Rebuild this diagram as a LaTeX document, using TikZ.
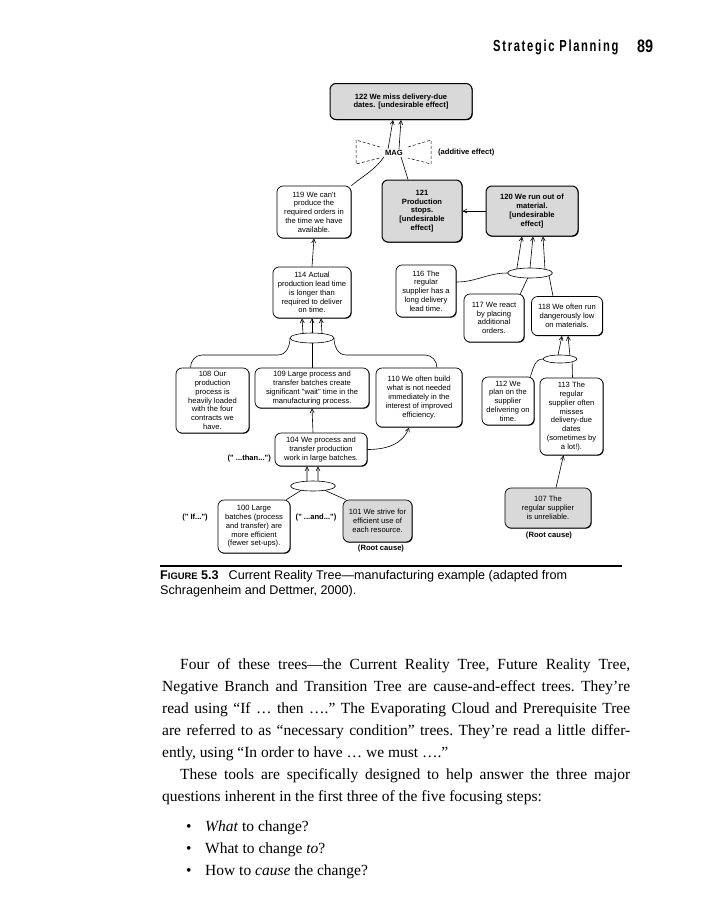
\documentclass[tikz,border=0pt]{standalone}
\usepackage{fontspec}
\usepackage{graphicx}
\setmainfont{Liberation Serif}
\newfontfamily\crtfont{Liberation Sans}
\newfontfamily\headfont[LetterSpace=15]{Liberation Sans}
\usetikzlibrary{shapes.geometric,arrows.meta,shadows}

\tikzset{
  crt/.style={draw, rounded corners=6pt, line width=0.7pt, align=center, inner sep=1pt, fill=white,
    drop shadow={fill=black, opacity=1, shadow xshift=0.7pt, shadow yshift=-0.7pt},
    font=\crtfont\fontsize{7.6}{8.8}\selectfont},
  root/.style={crt, fill=gray!30},
  ude/.style={root, line width=1pt, font=\crtfont\bfseries\fontsize{7.6}{8.8}\selectfont},
  andell/.style={draw, ellipse, line width=0.6pt, inner sep=0pt, outer sep=0pt},
  tip/.style={-{Straight Barb[length=4pt,width=4pt]}, line width=0.6pt},
  lnk/.style={line width=0.6pt},
  note/.style={font=\crtfont\bfseries\fontsize{7.6}{8.8}\selectfont, inner sep=1pt},
  bodyline/.style={anchor=base west, inner sep=0pt, font=\frenchspacing\fontsize{15.5}{22}\selectfont}
}

\begin{document}
\begin{tikzpicture}[x=1pt,y=1pt]
\useasboundingbox[fill=white] (0,0) rectangle (715,-900);

% running head
\node[anchor=base west, inner sep=0pt] (runhead) at (493,-51) {\scalebox{0.7}[1]{\headfont\bfseries\fontsize{16}{16}\selectfont Strategic Planning}};
\node[anchor=base west, inner sep=0pt] (folio) at (637,-52) {\scalebox{0.8}[1]{\crtfont\bfseries\fontsize{18}{18}\selectfont 89}};

% the tree
\node[ude, minimum width=142, minimum height=36] (b122) at (401,-101.5) {122 We miss delivery-due\\dates. [undesirable effect]};
\node[note] (mag) at (394,-153) {MAG};
\node[note, anchor=west] (addeff) at (437,-153) {(additive effect)};
\node[crt, minimum width=74, minimum height=52] (b119) at (314,-212) {119 We can't\\produce the\\required orders in\\the time we have\\available.};
\node[ude, minimum width=80, minimum height=62] (b121) at (422,-211) {121\\Production\\stops.\\{}[undesirable\\effect]};
\node[ude, minimum width=92, minimum height=50] (b120) at (532,-211) {120 We run out of\\material.\\{}[undesirable\\effect]};
\node[crt, minimum width=78, minimum height=51] (b114) at (312,-292.5) {114 Actual\\production lead time\\is longer than\\required to deliver\\on time.};
\node[crt, minimum width=60, minimum height=52] (b116) at (426,-291) {116 The\\regular\\supplier has a\\long delivery\\lead time.};
\node[crt, minimum width=60, minimum height=48] (b117) at (494,-318) {117 We react\\by placing\\additional\\orders.};
\node[crt, minimum width=71, minimum height=39] (b118) at (567,-316) {118 We often run\\dangerously low\\on materials.};
\node[andell, minimum width=45, minimum height=10] (and1) at (530,-273) {};
\node[andell, minimum width=44, minimum height=10] (and2) at (312,-338) {};
\node[andell, minimum width=34, minimum height=8] (and3) at (560,-359) {};
\node[crt, minimum width=73, minimum height=65] (b108) at (212.5,-400.5) {108 Our\\production\\process is\\heavily loaded\\with the four\\contracts we\\have.};
\node[crt, minimum width=114, minimum height=40] (b109) at (312,-388) {109 Large process and\\transfer batches create\\significant "wait" time in the\\manufacturing process.};
\node[crt, minimum width=86, minimum height=59] (b110) at (419,-397.5) {110 We often build\\what is not needed\\immediately in the\\interest of improved\\efficiency.};
\node[crt, minimum width=52, minimum height=48] (b112) at (508,-401) {112 We\\plan on the\\supplier\\delivering on\\time.};
\node[crt, minimum width=63, minimum height=77] (b113) at (571.5,-416.5) {113 The\\regular\\supplier often\\misses\\delivery-due\\dates\\(sometimes by\\a lot!).};
\node[crt, minimum width=92, minimum height=33] (b104) at (321,-449.5) {104 We process and\\transfer production\\work in large batches.};
\node[note, anchor=east] (than) at (272,-459) {(" ...than...")};
\node[andell, minimum width=45, minimum height=10] (and4) at (313,-486) {};
\node[crt, minimum width=72, minimum height=53] (b100) at (254,-526.5) {100 Large\\batches (process\\and transfer) are\\more efficient\\(fewer set-ups).};
\node[root, minimum width=69, minimum height=42] (b101) at (377.5,-521) {101 We strive for\\efficient use of\\each resource.};
\node[root, minimum width=86, minimum height=40] (b107) at (548,-508) {107 The\\regular supplier\\is unreliable.};
\node[note] (iflbl) at (195,-518) {(" If...")};
\node[note] (andlbl) at (316,-518) {(" ...and...")};
\node[note] (root1) at (381,-549) {(Root cause)};
\node[note] (root2) at (549,-536) {(Root cause)};

\draw[dash pattern=on 3pt off 2pt, line width=0.5pt] (380,-147) -- (356,-140) -- (356,-164) -- (380,-158);
\draw[dash pattern=on 3pt off 2pt, line width=0.5pt] (408,-147) -- (431,-140) -- (431,-164) -- (408,-158);

\draw[lnk] (b119.north east) to[out=40,in=-125] (mag.south west);
\draw[lnk] ([xshift=-14pt]b121.north) -- ([xshift=7pt]mag.south);
\draw[tip] ([xshift=-6pt]mag.north) -- ([xshift=-8pt]b122.south);
\draw[tip] ([xshift=5pt]mag.north) -- (b122.south);
\draw[tip] (b120.west) -- (b121.east);
\draw[tip] (b114.north) -- (b119.south);

\draw[tip] (and1.163) -- ([xshift=-10pt]b120.south);
\draw[tip] (and1.90) -- ([xshift=1pt]b120.south);
\draw[tip] (and1.14) -- ([xshift=11pt]b120.south);
\draw[lnk] ([yshift=9pt]b116.east) to[out=0,in=180] (and1.west);
\draw[lnk] ([xshift=-4pt]b117.north east) -- (and1.-115);
\draw[lnk] ([xshift=-14pt]b118.north) -- (and1.-8);

\draw[tip] (and3.117) -- ([xshift=-5pt]b118.south);
\draw[tip] (and3.18) -- ([xshift=1pt]b118.south);
\draw[lnk] ([xshift=-4pt]b112.north east) to[out=70,in=180] (and3.west);
\draw[lnk] ([xshift=1pt]b113.north) -- (and3.-13);
\draw[tip] ([xshift=8pt]b107.north) -- ([xshift=-8pt]b113.south);

\draw[tip] (and2.153) -- ([xshift=-10pt]b114.south);
\draw[tip] (and2.90) -- (b114.south);
\draw[tip] (and2.24) -- ([xshift=9pt]b114.south);
\draw[lnk] (and2.south) -- (b109.north);
\draw[lnk] (and2.west) to[out=-90,in=0] (278,-355) -- (202,-355) to[out=180,in=90] ([xshift=-22pt]b108.north);
\draw[lnk] (and2.east) to[out=-90,in=180] (346,-355) -- (425,-355) to[out=0,in=90] ([xshift=18pt]b110.north);

\draw[tip] ([xshift=-8pt]b104.north) -- (b109.south);
\draw[tip] (b104.east) to[out=0,in=-110] ([xshift=-10pt]b110.south);
\draw[tip] (and4.141) -- ([xshift=-14pt]b104.south);
\draw[tip] (and4.44) -- ([xshift=-3pt]b104.south);
\draw[lnk] ([xshift=-4pt]b100.north east) -- (and4.-160);
\draw[lnk] ([xshift=3pt]b101.north west) -- (and4.-20);

% caption
\draw[line width=1.6pt] (160,-566) -- (622,-566);
\node[anchor=base west, inner sep=0pt, font=\crtfont\fontsize{12.6}{15}\selectfont] (cap1) at (160,-579) {{\bfseries F{\fontsize{9.4}{9}\selectfont IGURE} 5.3}\hspace{10pt}Current Reality Tree—manufacturing example (adapted from};
\node[anchor=base west, inner sep=0pt, font=\crtfont\fontsize{12.6}{15}\selectfont] (cap2) at (160,-594) {Schragenheim and Dettmer, 2000).};

% body text
\node[bodyline] (line1) at (180,-669) {\hbox to 450pt{Four of these trees—the Current Reality Tree, Future Reality Tree,}};
\node[bodyline] (line2) at (162,-691) {\hbox to 468pt{Negative Branch and Transition Tree are cause-and-effect trees. They’re}};
\node[bodyline] (line3) at (162,-713) {\hbox to 468pt{read using “If … then ….” The Evaporating Cloud and Prerequisite Tree}};
\node[bodyline] (line4) at (162,-735) {\hbox to 468pt{are referred to as “necessary condition” trees. They’re read a little differ-}};
\node[bodyline] (line5) at (162,-757) {ently, using “In order to have … we must ….”};
\node[bodyline] (line6) at (180,-779) {\hbox to 450pt{These tools are specifically designed to help answer the three major}};
\node[bodyline] (line7) at (162,-801) {questions inherent in the first three of the five focusing steps:};
\foreach \i/\y/\t in {1/831/{\textit{What} to change?}, 2/853/{What to change \textit{to}?}, 3/875/{How to \textit{cause} the change?}}{
  \node[bodyline] (dot\i) at (186,-\y) {•};
  \node[bodyline] (item\i) at (205,-\y) {\t};
}
\end{tikzpicture}
\end{document}
